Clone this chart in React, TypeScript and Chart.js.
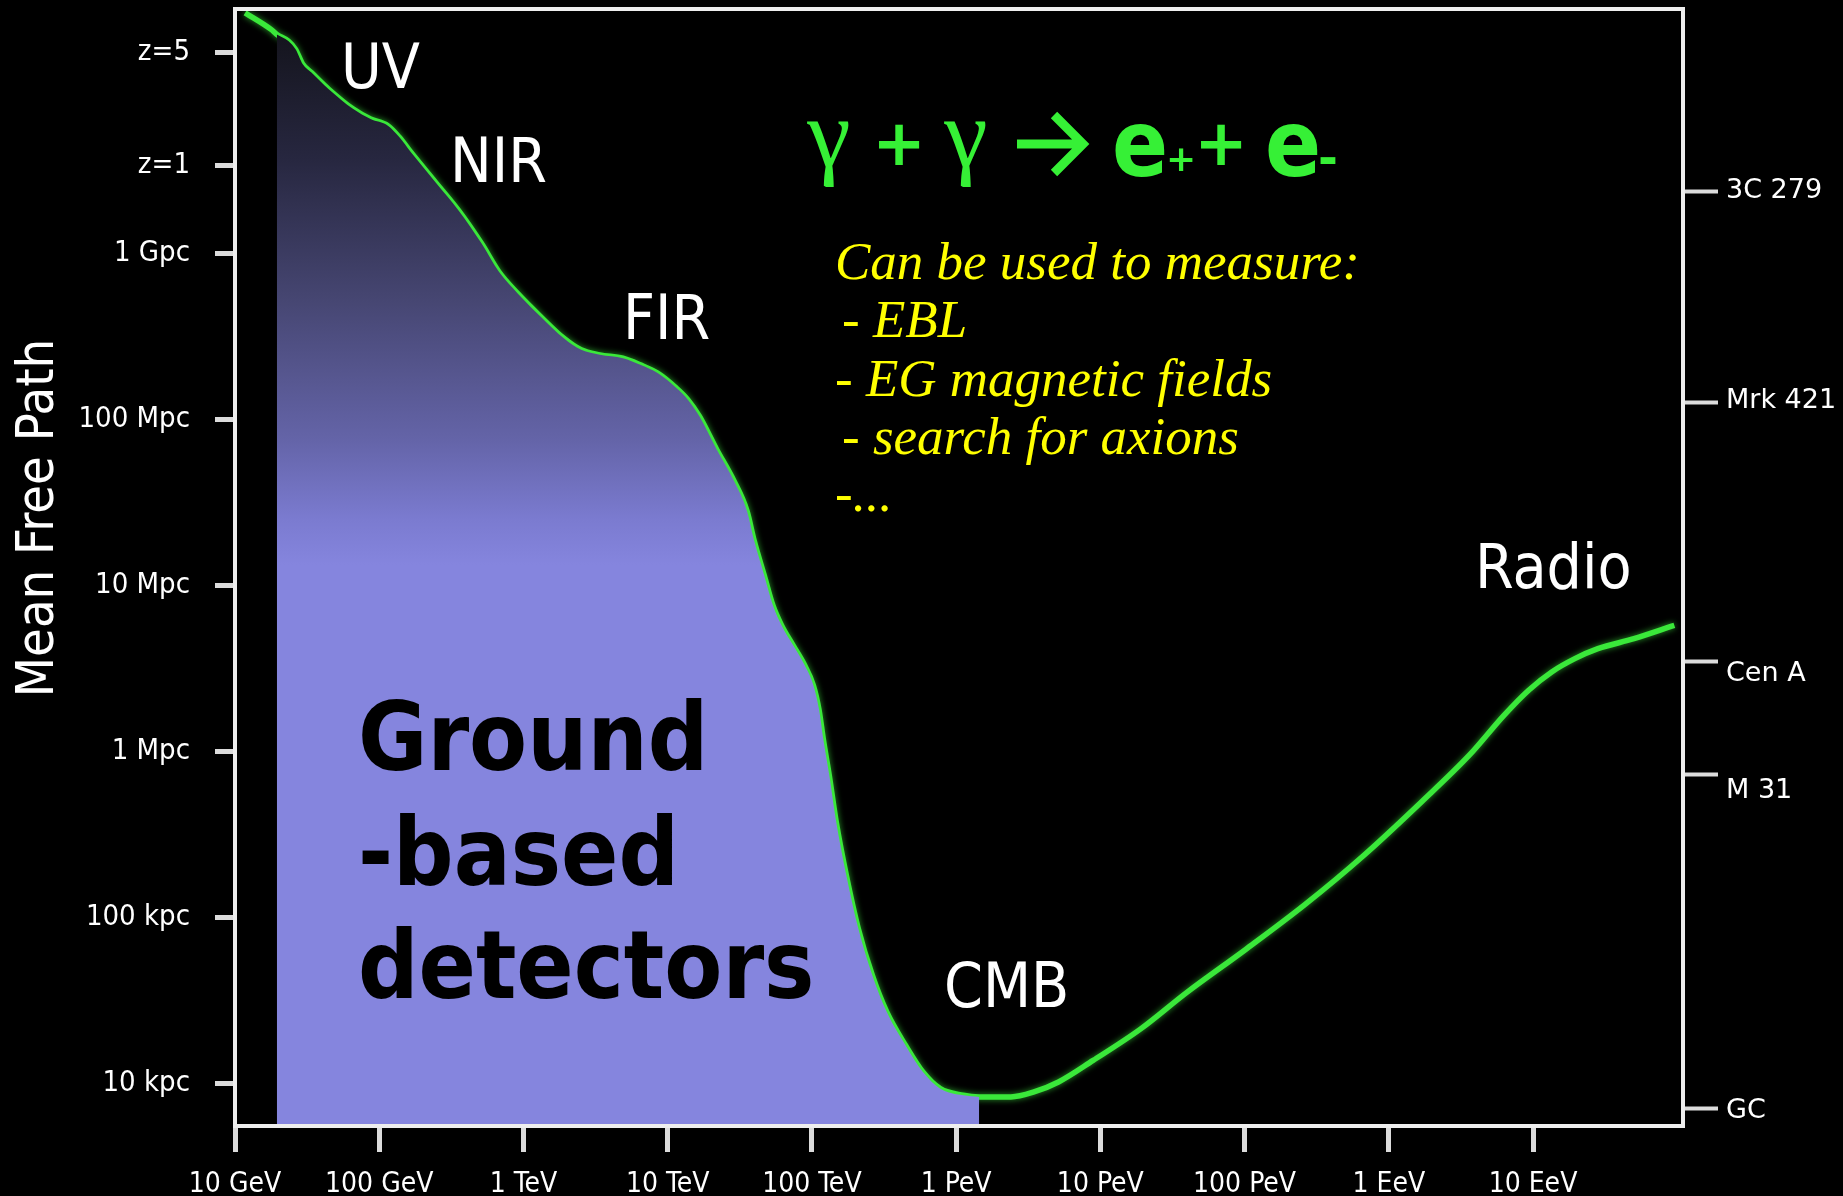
import React, { useEffect, useRef } from 'react';
import { Chart, registerables } from 'chart.js';

Chart.register(...registerables);

// Photon energy, log10(E / eV)
const energyLog = [
  10.07, 10.25, 10.29, 10.37, 10.42, 10.47, 10.53, 10.65, 10.82, 10.94,
  11.06, 11.14, 11.22, 11.39, 11.55, 11.71, 11.83, 11.96, 12.12, 12.28,
  12.4, 12.53, 12.69, 12.81, 12.93, 13.06, 13.14, 13.22, 13.34, 13.46,
  13.55, 13.6, 13.67, 13.73, 13.79, 13.87, 13.95, 14.01, 14.05, 14.08,
  14.12, 14.17, 14.24, 14.32, 14.42, 14.52, 14.65, 14.77, 14.89, 15.05,
  15.16, 15.38, 15.54, 15.71, 15.95, 16.28, 16.6, 17.01, 17.42, 17.82,
  18.23, 18.56, 18.8, 18.97, 19.13, 19.29, 19.45, 19.7, 19.98,
];

// Mean free path for pair production, log10(lambda / pc)
const mfpLog = [
  10.45, 10.35, 10.32, 10.28, 10.23, 10.14, 10.09, 9.99, 9.87, 9.81,
  9.77, 9.7, 9.61, 9.43, 9.26, 9.06, 8.89, 8.76, 8.62, 8.49,
  8.42, 8.39, 8.37, 8.33, 8.28, 8.19, 8.12, 8.02, 7.82, 7.63,
  7.45, 7.27, 7.06, 6.88, 6.76, 6.64, 6.52, 6.4, 6.25, 6.07,
  5.86, 5.57, 5.25, 4.94, 4.65, 4.43, 4.23, 4.07, 3.97, 3.93,
  3.92, 3.92, 3.95, 4.01, 4.14, 4.33, 4.55, 4.81, 5.08, 5.37,
  5.7, 5.98, 6.22, 6.37, 6.48, 6.56, 6.62, 6.68, 6.76,
];

// Energy window covered by ground-based detectors (log10 eV)
const detectorRange = [10.29, 15.16];

const energyTicks = [10, 11, 12, 13, 14, 15, 16, 17, 18, 19];
const energyLabels = ['10 GeV', '100 GeV', '1 TeV', '10 TeV', '100 TeV', '1 PeV', '10 PeV', '100 PeV', '1 EeV', '10 EeV'];

const distanceTicks = [4, 5, 6, 7, 8, 9, 9.53, 10.21];
const distanceLabels = ['10 kpc', '100 kpc', '1 Mpc', '10 Mpc', '100 Mpc', '1 Gpc', 'z=1', 'z=5'];

const sourceDistances = [9.375, 8.1, 6.54, 5.86, 3.85];
const sourceNames = ['3C 279', 'Mrk 421', 'Cen A', 'M 31', 'GC'];

const bandNames = ['UV', 'NIR', 'FIR', 'CMB', 'Radio'];

const infoLines = ['Can be used to measure:', '- EBL', '- EG magnetic fields', '- search for axions', '-...'];

const groundLines = ['Ground', '-based', 'detectors'];

// ---- layout (canvas pixels) ----
const W = 1843;
const H = 1196;
const PLOT = { left: 235, right: 1683, top: 9, bottom: 1126 };
const bandPos: [number, number][] = [[341, 88], [450, 182], [623, 339], [944, 1007], [1475, 588]];
const infoPos: [number, number][] = [[835, 279], [842, 337], [835, 396], [842, 454], [835, 511]];
const groundX = 358;
const groundBaselines = [770, 885, 998];
const sourceLabelShift = [0, -2, 12, 16, 2];

const COND = '"DejaVu Sans Condensed", "DejaVu Sans", sans-serif';
const GREEN = '#3ae83a';
const TEXT_GREEN = '#36f036';

function fillGradient(chart: any) {
  const ca = chart.chartArea;
  if (!ca) return '#8585de';
  const g = chart.ctx.createLinearGradient(0, ca.top, 0, ca.bottom);
  const stops: [number, string][] = [
    [20, '#121219'],
    [160, '#272740'],
    [300, '#464672'],
    [440, '#6464a8'],
    [520, '#7b7bd0'],
    [565, '#8585de'],
  ];
  const h = ca.bottom - ca.top;
  for (const [y, c] of stops) {
    g.addColorStop(Math.min(1, Math.max(0, (y - ca.top) / h)), c);
  }
  g.addColorStop(1, '#8585de');
  return g;
}

function zeroPadding(s: any) {
  s.paddingTop = 0;
  s.paddingBottom = 0;
  s.paddingLeft = 0;
  s.paddingRight = 0;
}

const overlayPlugin = {
  id: 'overlay',
  beforeDatasetDraw(chart: any, args: any) {
    if (args.index === 1) {
      chart.ctx.save();
      chart.ctx.shadowColor = 'rgba(70,255,70,0.6)';
      chart.ctx.shadowBlur = 6;
    }
  },
  afterDatasetDraw(chart: any, args: any) {
    if (args.index === 1) chart.ctx.restore();
  },
  afterDraw(chart: any) {
    const ctx = chart.ctx;
    const ca = chart.chartArea;
    ctx.save();

    // frame
    ctx.strokeStyle = '#eeeeee';
    ctx.lineWidth = 4;
    ctx.strokeRect(ca.left, ca.top, ca.right - ca.left, ca.bottom - ca.top);

    // axis title
    ctx.save();
    ctx.translate(53, 518);
    ctx.rotate(-Math.PI / 2);
    ctx.fillStyle = '#ffffff';
    ctx.font = `52px ${COND}`;
    ctx.textAlign = 'center';
    ctx.textBaseline = 'alphabetic';
    ctx.fillText('Mean Free Path', 0, 0);
    ctx.restore();

    // source labels on the right axis
    const y2 = chart.scales.y2;
    ctx.fillStyle = '#ffffff';
    ctx.font = '27px "DejaVu Sans", sans-serif';
    ctx.textAlign = 'left';
    ctx.textBaseline = 'middle';
    sourceNames.forEach((name, i) => {
      const y = y2.getPixelForValue(sourceDistances[i]) + sourceLabelShift[i];
      ctx.fillText(name, ca.right + 43, y);
    });

    // background photon bands
    ctx.font = `62px ${COND}`;
    ctx.textBaseline = 'alphabetic';
    bandNames.forEach((name, i) => {
      ctx.fillText(name, bandPos[i][0], bandPos[i][1]);
    });

    // ground-based detectors
    ctx.fillStyle = '#000000';
    ctx.font = `bold 94px ${COND}`;
    groundLines.forEach((t, i) => ctx.fillText(t, groundX, groundBaselines[i]));

    // reaction: gamma + gamma -> e+ + e-
    ctx.fillStyle = TEXT_GREEN;
    ctx.strokeStyle = TEXT_GREEN;
    ctx.textAlign = 'center';
    ctx.font = '98px "Liberation Serif", serif';
    ctx.fillText('γ', 829, 166);
    ctx.fillText('γ', 966, 166);
    ctx.textBaseline = 'middle';
    ctx.font = 'bold 64px "DejaVu Sans", sans-serif';
    ctx.fillText('+', 899, 148);
    ctx.fillText('+', 1221, 148);
    // arrow
    ctx.lineWidth = 9;
    ctx.lineCap = 'butt';
    ctx.lineJoin = 'miter';
    ctx.beginPath();
    ctx.moveTo(1017, 144);
    ctx.lineTo(1080, 144);
    ctx.moveTo(1054, 115);
    ctx.lineTo(1083, 144);
    ctx.lineTo(1054, 173);
    ctx.stroke();
    ctx.textBaseline = 'alphabetic';
    ctx.font = `bold 92px ${COND}`;
    ctx.fillText('e', 1140, 176);
    ctx.fillText('e', 1293, 176);
    ctx.textBaseline = 'middle';
    ctx.font = 'bold 36px "DejaVu Sans", sans-serif';
    ctx.fillText('+', 1181, 162);
    ctx.font = 'bold 48px "DejaVu Sans", sans-serif';
    ctx.fillText('-', 1328, 162);

    // notes
    ctx.fillStyle = '#ffff00';
    ctx.textAlign = 'left';
    ctx.textBaseline = 'alphabetic';
    ctx.font = 'italic 53px "Liberation Serif", serif';
    infoLines.forEach((t, i) => ctx.fillText(t, infoPos[i][0], infoPos[i][1]));

    // blank patch at the lower-right corner
    ctx.fillStyle = '#000000';
    ctx.fillRect(1581, ca.bottom + 3, W - 1581, H - ca.bottom);

    ctx.restore();
  },
};

export default function App() {
  const canvasRef = useRef<HTMLCanvasElement | null>(null);

  useEffect(() => {
    document.body.style.margin = '0';
    document.body.style.background = '#000';
    const canvas = canvasRef.current;
    if (!canvas) return;

    const curve = energyLog.map((x, i) => ({ x, y: mfpLog[i] }));
    const detector = curve.filter((p) => p.x >= detectorRange[0] && p.x <= detectorRange[1]);

    const yMin = 3.745;
    const yMax = 10.473;

    const chart = new Chart(canvas, {
      type: 'line',
      data: {
        datasets: [
          {
            data: detector,
            borderWidth: 0,
            borderColor: 'rgba(0,0,0,0)',
            pointRadius: 0,
            fill: 'start',
            backgroundColor: (c: any) => fillGradient(c.chart),
            cubicInterpolationMode: 'monotone',
          },
          {
            data: curve,
            borderColor: GREEN,
            borderWidth: 5.5,
            pointRadius: 0,
            fill: false,
            cubicInterpolationMode: 'monotone',
          },
        ],
      },
      options: {
        animation: false,
        responsive: false,
        maintainAspectRatio: false,
        layout: { padding: { top: PLOT.top, left: 0, right: 0, bottom: 0 } },
        plugins: { legend: { display: false }, tooltip: { enabled: false } },
        scales: {
          x: {
            type: 'linear',
            position: 'bottom',
            min: 10,
            max: 20.04,
            border: { display: false },
            grid: { display: true, drawOnChartArea: false, drawTicks: true, tickLength: 26, tickWidth: 5, tickColor: '#dcdcdc' },
            ticks: {
              color: '#ffffff',
              font: { family: COND, size: 28 },
              padding: 16,
              autoSkip: false,
              maxRotation: 0,
              callback: (_v: any, i: number) => energyLabels[i],
            },
            afterBuildTicks: (s: any) => {
              s.ticks = energyTicks.map((value) => ({ value }));
            },
            afterFit: (s: any) => {
              s.height = H - PLOT.bottom;
              zeroPadding(s);
            },
          },
          y: {
            type: 'linear',
            position: 'left',
            min: yMin,
            max: yMax,
            border: { display: false },
            grid: { display: true, drawOnChartArea: false, drawTicks: true, tickLength: 20, tickWidth: 5, tickColor: '#dcdcdc' },
            ticks: {
              color: '#ffffff',
              font: { family: COND, size: 29 },
              padding: 25,
              autoSkip: false,
              callback: (_v: any, i: number) => distanceLabels[i],
            },
            afterBuildTicks: (s: any) => {
              s.ticks = distanceTicks.map((value) => ({ value }));
            },
            afterFit: (s: any) => {
              s.width = PLOT.left;
              zeroPadding(s);
            },
          },
          y2: {
            type: 'linear',
            position: 'right',
            min: yMin,
            max: yMax,
            border: { display: false },
            grid: { display: true, drawOnChartArea: false, drawTicks: true, tickLength: 35, tickWidth: 4, tickColor: '#dcdcdc' },
            ticks: { display: false },
            afterBuildTicks: (s: any) => {
              s.ticks = sourceDistances.map((value) => ({ value }));
            },
            afterFit: (s: any) => {
              s.width = W - PLOT.right;
              zeroPadding(s);
            },
          },
        },
      },
      plugins: [overlayPlugin],
    } as any);

    return () => chart.destroy();
  }, []);

  return (
    <div style={{ position: 'fixed', left: 0, top: 0, width: W, height: H, background: '#000' }}>
      <canvas ref={canvasRef} width={W} height={H} style={{ display: 'block', width: W, height: H }} />
    </div>
  );
}
